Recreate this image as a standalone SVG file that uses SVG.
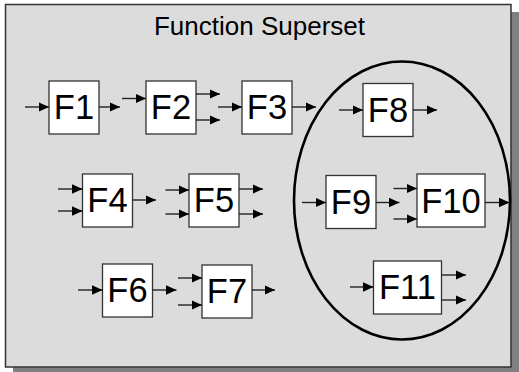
<svg xmlns="http://www.w3.org/2000/svg" width="519" height="372" viewBox="0 0 519 372">
<defs>
<marker id="ah" markerUnits="userSpaceOnUse" markerWidth="11" markerHeight="10" refX="10.5" refY="4.75" orient="auto">
<path d="M0,0 L10.5,4.75 L0,9.5 z" fill="#000"/>
</marker>
</defs>
<style>
.box{fill:#fff;stroke:#333;stroke-width:1.3}
.lbl{font-family:"Liberation Sans",Arial,sans-serif;font-size:34.5px;fill:#000;text-anchor:middle}
.title{font-family:"Liberation Sans",Arial,sans-serif;font-size:26px;fill:#000;text-anchor:middle}
.c line{stroke:#222;stroke-width:1.4;marker-end:url(#ah)}
</style>
<rect x="13" y="12" width="506" height="363" fill="#808080"/>
<rect id="superset" x="5.5" y="4.5" width="505.5" height="362.5" fill="#dcdcdc" stroke="#333" stroke-width="1.5"/>
<text class="title" x="259.5" y="35">Function Superset</text>
<ellipse id="subset" cx="402" cy="200.5" rx="108" ry="139" fill="none" stroke="#000" stroke-width="2.6"/>
<g id="F1"><rect class="box" x="49" y="81" width="50" height="53"/><text class="lbl" x="74" y="119">F1</text></g>
<g id="F2"><rect class="box" x="146" y="81" width="50" height="53"/><text class="lbl" x="171" y="119">F2</text></g>
<g id="F3"><rect class="box" x="242" y="81" width="50" height="53"/><text class="lbl" x="267" y="119">F3</text></g>
<g id="F8"><rect class="box" x="363" y="83.5" width="50" height="53"/><text class="lbl" x="388" y="122">F8</text></g>
<g id="F4"><rect class="box" x="82.5" y="174" width="50" height="53"/><text class="lbl" x="107.5" y="212">F4</text></g>
<g id="F5"><rect class="box" x="189" y="174" width="50" height="53"/><text class="lbl" x="214" y="212">F5</text></g>
<g id="F9"><rect class="box" x="326" y="175.5" width="50" height="53"/><text class="lbl" x="351" y="214">F9</text></g>
<g id="F10"><rect class="box" x="417" y="174" width="68" height="53"/><text class="lbl" x="451" y="212.5">F10</text></g>
<g id="F6"><rect class="box" x="102.5" y="264" width="50" height="53"/><text class="lbl" x="127.5" y="302">F6</text></g>
<g id="F7"><rect class="box" x="202" y="265" width="50" height="53"/><text class="lbl" x="227" y="303">F7</text></g>
<g id="F11"><rect class="box" x="373.5" y="261" width="68" height="53"/><text class="lbl" x="407.5" y="299">F11</text></g>
<g id="connectors" class="c">
<line x1="25" y1="107" x2="49" y2="107"/>
<line x1="99" y1="107" x2="120" y2="107"/>
<line x1="122" y1="98.5" x2="146" y2="98.5"/>
<line x1="196" y1="94" x2="220" y2="94"/>
<line x1="196" y1="120" x2="220" y2="120"/>
<line x1="218" y1="107" x2="242" y2="107"/>
<line x1="292" y1="107" x2="316" y2="107"/>
<line x1="339" y1="110" x2="363" y2="110"/>
<line x1="413" y1="110" x2="437" y2="110"/>
<line x1="58" y1="189" x2="82.5" y2="189"/>
<line x1="58" y1="211" x2="82.5" y2="211"/>
<line x1="132.5" y1="200" x2="156" y2="200"/>
<line x1="165.5" y1="190" x2="189" y2="190"/>
<line x1="165.5" y1="214" x2="189" y2="214"/>
<line x1="239" y1="189" x2="263" y2="189"/>
<line x1="239" y1="214" x2="263" y2="214"/>
<line x1="302" y1="202.5" x2="326" y2="202.5"/>
<line x1="376" y1="202.5" x2="399.5" y2="202.5"/>
<line x1="393.5" y1="188.5" x2="417" y2="188.5"/>
<line x1="393.5" y1="219" x2="417" y2="219"/>
<line x1="485" y1="202.5" x2="509.5" y2="202.5"/>
<line x1="78" y1="290" x2="102.5" y2="290"/>
<line x1="152.5" y1="290" x2="176.5" y2="290"/>
<line x1="178" y1="278" x2="202" y2="278"/>
<line x1="178" y1="305" x2="202" y2="305"/>
<line x1="252" y1="290" x2="275" y2="290"/>
<line x1="350" y1="287" x2="373.5" y2="287"/>
<line x1="441.5" y1="275" x2="466" y2="275"/>
<line x1="441.5" y1="300" x2="466" y2="300"/>
</g>
</svg>
